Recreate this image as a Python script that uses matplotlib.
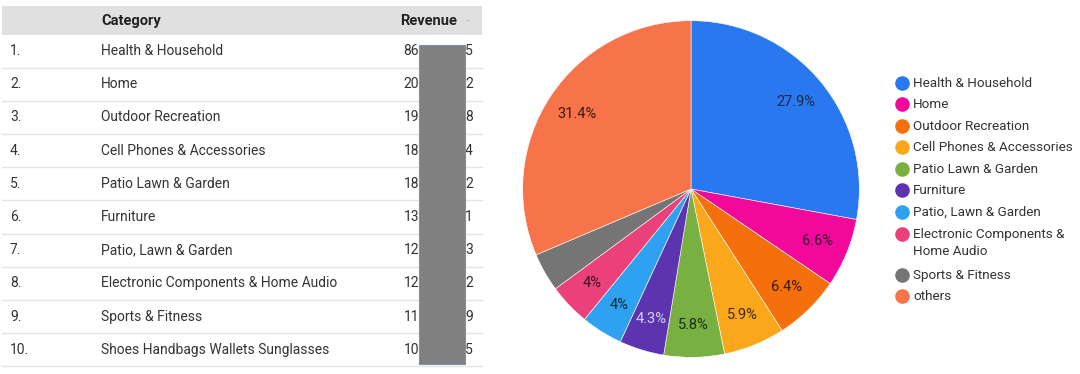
import matplotlib.pyplot as plt
from matplotlib.patches import Rectangle

plt.rcParams['font.family'] = ['Roboto', 'DejaVu Sans']

# Table data (revenue digits are partly masked in the source)
ranks = ['1.', '2.', '3.', '4.', '5.', '6.', '7.', '8.', '9.', '10.']
categories = ['Health & Household', 'Home', 'Outdoor Recreation',
              'Cell Phones & Accessories', 'Patio Lawn & Garden', 'Furniture',
              'Patio, Lawn & Garden', 'Electronic Components & Home Audio',
              'Sports & Fitness', 'Shoes Handbags Wallets Sunglasses']
rev_head = ['86', '20', '19', '18', '18', '13', '12', '12', '11', '10']
rev_tail = ['5', '2', '8', '4', '2', '1', '3', '2', '9', '5']

# Pie data (share of revenue, %)
pie_labels = ['Health & Household', 'Home', 'Outdoor Recreation',
              'Cell Phones & Accessories', 'Patio Lawn & Garden', 'Furniture',
              'Patio, Lawn & Garden', 'Electronic Components &\nHome Audio',
              'Sports & Fitness', 'others']
pie_share = [27.9, 6.6, 6.4, 5.9, 5.8, 4.3, 4.0, 4.0, 3.7, 31.4]
pie_colors = ['#2a78f0', '#f2089b', '#f56f0c', '#fba71b', '#79b042',
              '#5c34b0', '#2ea2f1', '#eb417a', '#757575', '#f7734a']
pct_colors = ['#1b2a44', '#3a1030', '#3a1a08', '#3a2a08', '#1e3010',
              '#d8d0f0', '#10283a', '#3a1020', '#222222', '#3a1a10']

W, H = 1080, 374
fig = plt.figure(figsize=(W / 100, H / 100), dpi=100)
ax = fig.add_axes([0, 0, 1, 1])
ax.set_xlim(0, W)
ax.set_ylim(H, 0)
ax.axis('off')

# --- table ---
ax.add_patch(Rectangle((2, 6), 480, 29, color='#e0e0e0', lw=0))
ax.text(101, 21, 'Category', fontsize=10.5, fontweight='bold', va='center', color='#222222')
ax.text(457, 21, 'Revenue', fontsize=10.5, fontweight='bold', va='center', ha='right', color='#222222')
ax.text(467, 21, '–', fontsize=6, va='center', ha='center', color='#999999')

row_h = 33.2
y0 = 51
for i, (r, c, h, t) in enumerate(zip(ranks, categories, rev_head, rev_tail)):
    y = y0 + i * row_h
    ax.text(10, y, r, fontsize=10, va='center', color='#333333')
    ax.text(101, y, c, fontsize=10, va='center', color='#333333')
    ax.text(419, y, h, fontsize=10, va='center', ha='right', color='#333333')
    ax.text(465, y, t, fontsize=10, va='center', ha='left', color='#333333')
    ax.plot([2, 482], [y + row_h / 2, y + row_h / 2], color='#e4e4e4', lw=1, zorder=1)

# grey mask over the middle digits
ax.add_patch(Rectangle((419, 45), 46, 319, facecolor='#808080', edgecolor='#8090b0',
                       lw=0.8, zorder=5))

# --- pie ---
cx, cy, rad = 691, 189, 170
pax = fig.add_axes([(cx - rad) / W, (H - cy - rad) / H, 2 * rad / W, 2 * rad / H])


def fmt(p):
    if p < 3.8:
        return ''
    s = f'{p:.1f}'
    if s.endswith('.0'):
        s = s[:-2]
    return s + '%'


wedges, _, autotexts = pax.pie(pie_share, colors=pie_colors, startangle=90, counterclock=False,
                               autopct=fmt, pctdistance=0.81,
                               wedgeprops=dict(edgecolor='white', linewidth=0.4),
                               textprops=dict(fontsize=10.5))
for t, c in zip(autotexts, pct_colors):
    t.set_color(c)
pax.set_xlim(-1.01, 1.01)
pax.set_ylim(-1.01, 1.01)
pax.set_aspect('equal')

# --- legend ---
ly = [83, 104, 126, 147, 169, 190, 212, 243, 275, 296]
for y, lab, col in zip(ly, pie_labels, pie_colors):
    dot_y = 234 if '\n' in lab else y
    ax.scatter(902, dot_y, s=90, color=col, zorder=3)
    ax.text(913, y, lab, fontsize=9.7, va='center', ha='left', color='#333333', linespacing=1.45)

plt.savefig('out.png', dpi=100)
